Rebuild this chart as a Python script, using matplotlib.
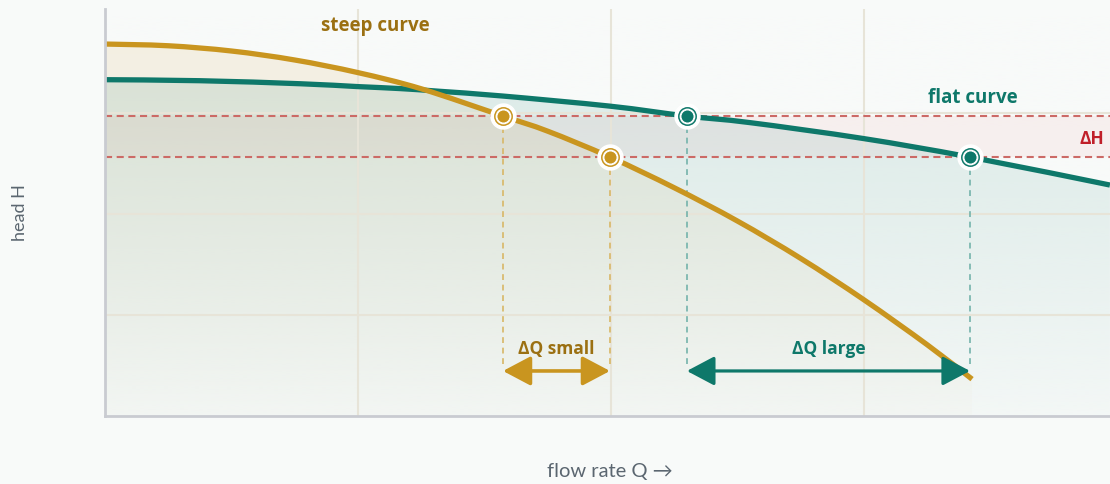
import numpy as np
import matplotlib
matplotlib.use("Agg")
import matplotlib.pyplot as plt
from matplotlib.path import Path
from matplotlib.patches import PathPatch

# pump curves (Q and H in grid units)
steep_q = [0.0, 0.25, 0.5, 0.75, 1.0, 1.25, 1.573, 1.75, 1.996, 2.25, 2.5, 2.75,
           3.0, 3.25, 3.427]
steep_h = [3.683, 3.666, 3.614, 3.525, 3.400, 3.240, 2.970, 2.820, 2.564, 2.260,
           1.930, 1.560, 1.150, 0.705, 0.365]
flat_q = [0.0, 0.375, 0.771, 0.996, 1.166, 1.324, 1.573, 1.996, 2.300, 2.549,
          2.996, 3.419, 3.972]
flat_h = [3.330, 3.320, 3.290, 3.262, 3.242, 3.215, 3.168, 3.068, 2.970, 2.905,
          2.748, 2.564, 2.287]

# the two head levels and where each curve meets them
h_levels = [2.970, 2.564]
steep_ops = [1.573, 1.996]
flat_ops = [2.300, 3.419]

BG = "#f8faf9"
GOLD = "#c9951f"
GOLD_TXT = "#9b7012"
TEAL = "#0e786a"
RED = "#c0202a"
GREY_TXT = "#5b6670"
FONT = ["Open Sans", "DejaVu Sans"]


def curve_path(xs, ys, closed=False):
    """Smooth cardinal-spline path through the points (bezier segments)."""
    p = np.column_stack([xs, ys])
    verts, codes = [p[0]], [Path.MOVETO]
    n = len(p)
    for i in range(n - 1):
        p0 = p[max(i - 1, 0)]
        p1, p2 = p[i], p[i + 1]
        p3 = p[min(i + 2, n - 1)]
        verts += [p1 + (p2 - p0) / 6, p2 - (p3 - p1) / 6, p2]
        codes += [Path.CURVE4] * 3
    if closed:
        verts += [(xs[-1], 0), (xs[0], 0), p[0]]
        codes += [Path.LINETO, Path.LINETO, Path.CLOSEPOLY]
    return Path(verts, codes)


fig = plt.figure(figsize=(11.10, 4.84), dpi=100, facecolor=BG)
ax = fig.add_axes([105 / 1110, 68 / 484, 1012 / 1110, 407 / 484])
ax.set_facecolor(BG)
ax.set_xlim(0, 4)
ax.set_ylim(0, 4.03)

# ΔH band
ax.axhspan(h_levels[1], h_levels[0], color="#e04848", alpha=0.07, lw=0, zorder=1)

# area fills under each curve
ax.add_patch(PathPatch(curve_path(steep_q, steep_h, True), fc=GOLD, alpha=0.10,
                       lw=0, zorder=2))
ax.add_patch(PathPatch(curve_path(flat_q, flat_h, True), fc=TEAL, alpha=0.12,
                       lw=0, zorder=2))

# fade fills towards the bottom
ramp = np.linspace(0, 1, 200)[:, None]
grad = np.zeros((200, 1, 4))
grad[..., :3] = matplotlib.colors.to_rgb(BG)
grad[..., 3] = 0.85 * ramp ** 1.3
ax.imshow(grad, extent=[0, 4, 0, 4.03], aspect="auto", origin="upper",
          interpolation="bilinear", zorder=3)

# grid
for gx in [1, 2, 3]:
    ax.axvline(gx, color="#e7e4d8", lw=1.5, zorder=4)
for gy in [1, 2, 3]:
    ax.axhline(gy, color="#e7e4d8", lw=1.5, zorder=4)

# head levels
for h in h_levels:
    ax.axhline(h, color="#cc6a66", lw=1.5, ls=(0, (3.4, 2.2)), zorder=5)

# drop lines to the ΔQ arrows
arrow_y = 0.446
for q, h in zip(steep_ops, h_levels):
    ax.plot([q, q], [arrow_y + 0.07, h], color="#d8b766", lw=1.2,
            ls=(0, (3.5, 2.8)), zorder=5)
for q, h in zip(flat_ops, h_levels):
    ax.plot([q, q], [arrow_y + 0.07, h], color="#74b3ab", lw=1.2,
            ls=(0, (3.5, 2.8)), zorder=5)

# curves
ax.add_patch(PathPatch(curve_path(flat_q, flat_h), fill=False, ec=TEAL, lw=3.8,
                       capstyle="butt", joinstyle="round", zorder=6))
ax.add_patch(PathPatch(curve_path(steep_q, steep_h), fill=False, ec=GOLD, lw=3.8,
                       capstyle="butt", joinstyle="round", zorder=7))

# operating points
for qs, col in [(steep_ops, GOLD), (flat_ops, TEAL)]:
    ax.plot(qs, h_levels, "o", ms=18, mfc="white", mec="white", zorder=8)
    ax.plot(qs, h_levels, "o", ms=12.5, mfc="none", mec=col, mew=1.1, zorder=9)
    ax.plot(qs, h_levels, "o", ms=9.5, mfc=col, mec="white", mew=0.8, zorder=9)

# ΔQ arrows
ax.annotate("", xy=(steep_ops[1], arrow_y), xytext=(steep_ops[0], arrow_y),
            arrowprops=dict(arrowstyle="<|-|>,head_length=1.7,head_width=0.9",
                            mutation_scale=10, color=GOLD, lw=2.6,
                            shrinkA=0, shrinkB=0), zorder=9)
ax.annotate("", xy=(flat_ops[1], arrow_y), xytext=(flat_ops[0], arrow_y),
            arrowprops=dict(arrowstyle="<|-|>,head_length=1.7,head_width=0.9",
                            mutation_scale=10, color=TEAL, lw=2.3,
                            shrinkA=0, shrinkB=0), zorder=9)

# labels
bold = dict(family=FONT, fontweight="bold", ha="center", va="center", zorder=10)
ax.text(1.067, 3.86, "steep curve", color=GOLD_TXT, fontsize=13.5, **bold)
ax.text(3.43, 3.15, "flat curve", color=TEAL, fontsize=13.5, **bold)
ax.text(3.90, 2.74, "ΔH", color=RED, fontsize=12.5, **bold)
ax.text(sum(steep_ops) / 2, 0.665, "ΔQ small", color=GOLD_TXT, fontsize=12.5, **bold)
ax.text(sum(flat_ops) / 2, 0.665, "ΔQ large", color=TEAL, fontsize=12.5, **bold)

fig.text(20 / 1110, 1 - 213 / 484, "head H", rotation=90, ha="center", va="center",
         color=GREY_TXT, fontsize=13, family=["Lato", "DejaVu Sans"])
fig.text(610 / 1110, 1 - 472 / 484, "flow rate Q →", ha="center", va="center",
         color=GREY_TXT, fontsize=14.5, family=["Lato", "DejaVu Sans"])

ax.set_xticks([])
ax.set_yticks([])
for side in ["top", "right"]:
    ax.spines[side].set_visible(False)
for side in ["left", "bottom"]:
    ax.spines[side].set_color("#c9cbd1")
    ax.spines[side].set_linewidth(2)
    ax.spines[side].set_zorder(11)

fig.savefig("out.png", dpi=100, facecolor=BG)
